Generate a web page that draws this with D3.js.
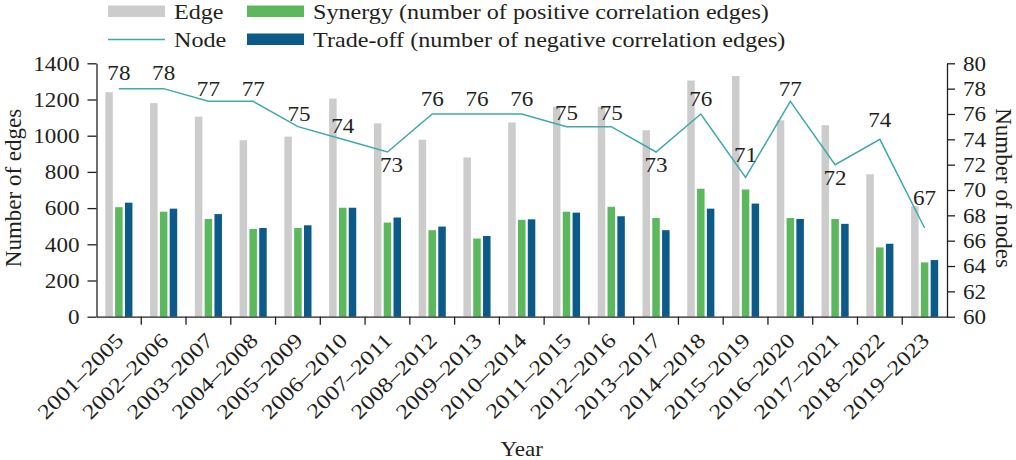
<!DOCTYPE html>
<html>
<head>
<meta charset="utf-8">
<script src="https://cdn.jsdelivr.net/npm/d3@7"></script>
<style>
  body { margin: 0; background: #fff; }
  text { font-family: "Liberation Serif", "DejaVu Serif", serif; fill: #231f20; }
</style>
</head>
<body>
<div id="chart"></div>
<script>
/*------------------------------
 DATA
 ----------------------------*/
const periods = ["2001–2005","2002–2006","2003–2007","2004–2008","2005–2009","2006–2010",
                 "2007–2011","2008–2012","2009–2013","2010–2014","2011–2015","2012–2016",
                 "2013–2017","2014–2018","2015–2019","2016–2020","2017–2021","2018–2022","2019–2023"];
const edgeCounts     = [1240,1180,1105,975,995,1205,1068,978,880,1073,1160,1160,1030,1305,1330,1085,1058,787,610];
const synergyCounts  = [605,580,540,485,490,602,520,478,432,535,580,607,545,707,703,545,540,383,300];
const tradeoffCounts = [630,597,567,490,505,602,548,498,446,538,575,555,478,597,625,540,513,403,313];
const nodeCounts     = [78,78,77,77,75,74,73,76,76,76,75,75,73,76,71,77,72,74,67];
const edgeTicks = [0,200,400,600,800,1000,1200,1400];
const nodeTicks = [60,62,64,66,68,70,72,74,76,78,80];

/*------------------------------
 LAYOUT
 ----------------------------*/
const SVG_WIDTH = 1016;
const SVG_HEIGHT = 460;
const PLOT = {left: 96.5, right: 947, top: 63.3, bottom: 316.7};
const FONT = 21;
const SX = 1.1;   // the original type is a little wider than Liberation Serif
const INK = "#231f20";
const COLORS = {edge: "#cccccc", synergy: "#5cb85c", tradeoff: "#0c5a8a", node: "#3fa9a9"};
// baseline offset of each node label from its point (hand placed in the original)
const labelDy = [-9,-9,-5,-5,-6,-6,20,-8,-8,-8,-7,-7,20,-8,-15,-5,20,-12,-23];
const labelDx = [0,0,0,0,1,0,4,0,0,0,0,0,0,0,0,0,0,0,0];

const svg = d3.select("#chart").append("svg")
    .attr("width", SVG_WIDTH).attr("height", SVG_HEIGHT);

const x = d3.scaleBand().domain(periods).range([PLOT.left, PLOT.right]);
const inner = d3.scaleBand().domain(["edge","synergy","tradeoff"])
    .range([0, x.bandwidth()]).paddingInner(0.235).paddingOuter(0.9);
const yLeft = d3.scaleLinear().domain([0, 1400]).range([PLOT.bottom, PLOT.top]);
const yRight = d3.scaleLinear().domain([60, 80]).range([PLOT.bottom, PLOT.top]);

const rows = periods.map((p, i) => ({
    period: p, edge: edgeCounts[i], synergy: synergyCounts[i],
    tradeoff: tradeoffCounts[i], node: nodeCounts[i], dy: labelDy[i], dx: labelDx[i]
}));

// bars
["edge","synergy","tradeoff"].forEach(key => {
    svg.append("g").selectAll("rect")
        .data(rows)
        .join("rect")
        .attr("x", d => x(d.period) + inner(key))
        .attr("width", inner.bandwidth())
        .attr("y", d => yLeft(d[key]))
        .attr("height", d => yLeft(0) - yLeft(d[key]))
        .attr("fill", COLORS[key]);
});

// node line
const cx = d => x(d.period) + x.bandwidth() / 2;
svg.append("path")
    .datum(rows)
    .attr("fill", "none")
    .attr("stroke", COLORS.node)
    .attr("stroke-width", 1.5)
    .attr("d", d3.line().x(cx).y(d => yRight(d.node)));

svg.append("g").selectAll("text")
    .data(rows)
    .join("text")
    .attr("transform", d => `translate(${cx(d) + d.dx},${yRight(d.node) + d.dy}) scale(${SX},1)`)
    .attr("text-anchor", "middle")
    .attr("font-size", FONT)
    .text(d => d.node);

// axes
function styleAxis(g) {
    g.attr("font-family", null).attr("font-size", FONT);
    g.selectAll("path, line").attr("stroke", INK).attr("stroke-width", 1.3);
    g.selectAll("text").attr("fill", INK);
}

svg.append("g")
    .attr("transform", `translate(${PLOT.left},0)`)
    .call(d3.axisLeft(yLeft).tickValues(edgeTicks).tickFormat(d3.format("d"))
        .tickSize(9).tickSizeOuter(0))
    .call(styleAxis)
    .selectAll(".tick text")
    .attr("x", 0)
    .attr("transform", `translate(-17,0) scale(${SX},1)`);

svg.append("g")
    .attr("transform", `translate(${PLOT.right},0)`)
    .call(d3.axisRight(yRight).tickValues(nodeTicks).tickSize(8).tickSizeOuter(0))
    .call(styleAxis)
    .selectAll(".tick text")
    .attr("x", 0)
    .attr("transform", `translate(16,0) scale(${SX},1)`);

const xAxis = svg.append("g")
    .attr("transform", `translate(0,${PLOT.bottom})`)
    .call(d3.axisBottom(x).tickSize(8).tickSizeOuter(0))
    .call(styleAxis);
// ticks sit on the group boundaries, not the centres
xAxis.selectAll(".tick line").attr("transform", `translate(${x.step() / 2},0)`);
xAxis.selectAll(".tick:last-of-type line").remove();
xAxis.selectAll(".tick text")
    .attr("x", 0).attr("y", 0).attr("dy", 0)
    .attr("text-anchor", "end")
    .attr("transform", `translate(6,25) rotate(-45) scale(1.18,1)`);

// axis titles
svg.append("text")
    .attr("transform", `translate(21,188) rotate(-90)`)
    .attr("text-anchor", "middle")
    .attr("font-size", FONT + 2)
    .text("Number of edges");
svg.append("text")
    .attr("transform", `translate(996,188) rotate(90)`)
    .attr("text-anchor", "middle")
    .attr("font-size", FONT + 2)
    .text("Number of nodes");
svg.append("text")
    .attr("transform", `translate(${(PLOT.left + PLOT.right) / 2},456) scale(${SX},1)`)
    .attr("text-anchor", "middle")
    .attr("font-size", FONT)
    .text("Year");

// legend
const legend = svg.append("g");
const legendItems = [
    {label: "Edge", type: "rect", color: COLORS.edge, col: 0, row: 0},
    {label: "Node", type: "line", color: COLORS.node, col: 0, row: 1},
    {label: "Synergy (number of positive correlation edges)", type: "rect", color: COLORS.synergy, col: 1, row: 0},
    {label: "Trade-off (number of negative correlation edges)", type: "rect", color: COLORS.tradeoff, col: 1, row: 1}
];
const colX = [108, 247];
const rowY = [11.5, 39.5];
legendItems.forEach(item => {
    const g = legend.append("g")
        .attr("transform", `translate(${colX[item.col]},${rowY[item.row]})`);
    if (item.type === "rect") {
        g.append("rect").attr("x", 0).attr("y", -6).attr("width", 57).attr("height", 11.5)
            .attr("fill", item.color);
    } else {
        g.append("line").attr("x1", 0).attr("x2", 57).attr("y1", 0).attr("y2", 0)
            .attr("stroke", item.color).attr("stroke-width", 1.5);
    }
    g.append("text")
        .attr("transform", `translate(66,7) scale(1.15,1)`)
        .attr("font-size", FONT)
        .text(item.label);
});
</script>
</body>
</html>
